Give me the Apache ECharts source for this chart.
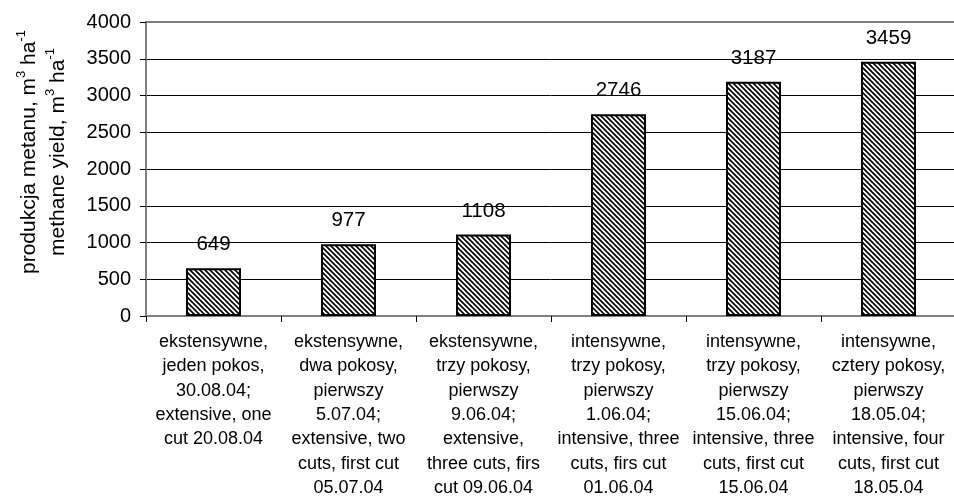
<!DOCTYPE html>
<html>
<head>
<meta charset="utf-8">
<script src="https://cdn.jsdelivr.net/npm/echarts@6/dist/echarts.min.js"></script>
<style>
  html, body { margin: 0; padding: 0; background: #fff; }
  #chart { width: 954px; height: 497px; }
</style>
</head>
<body>
<div id="chart"></div>
<script>
// Methane yield per cutting regime
const categories = [
  'ekstensywne,\njeden pokos,\n30.08.04;\nextensive, one\ncut 20.08.04',
  'ekstensywne,\ndwa pokosy,\npierwszy\n5.07.04;\nextensive, two\ncuts, first cut\n05.07.04',
  'ekstensywne,\ntrzy pokosy,\npierwszy\n9.06.04;\nextensive,\nthree cuts, firs\ncut 09.06.04',
  'intensywne,\ntrzy pokosy,\npierwszy\n1.06.04;\nintensive, three\ncuts, firs cut\n01.06.04',
  'intensywne,\ntrzy pokosy,\npierwszy\n15.06.04;\nintensive, three\ncuts, first cut\n15.06.04',
  'intensywne,\ncztery pokosy,\npierwszy\n18.05.04;\nintensive, four\ncuts, first cut\n18.05.04'
];
const methaneYield = [649, 977, 1108, 2746, 3187, 3459];
const yTicks = [0, 500, 1000, 1500, 2000, 2500, 3000, 3500, 4000];

// diagonal hatch fill for the bars
function hatch() {
  const s = 5;
  const c = document.createElement('canvas');
  c.width = s; c.height = s;
  const g = c.getContext('2d');
  g.fillStyle = '#fff';
  g.fillRect(0, 0, s, s);
  g.strokeStyle = '#000';
  g.lineWidth = 1.7;
  g.beginPath();
  g.moveTo(-1, -1); g.lineTo(s + 1, s + 1);
  g.moveTo(-1, s - 1); g.lineTo(1, s + 1);
  g.moveTo(s - 1, -1); g.lineTo(s + 1, 1);
  g.stroke();
  return c;
}

const font = '"Liberation Sans", Arial, sans-serif';
const chart = echarts.init(document.getElementById('chart'));
chart.setOption({
  animation: false,
  textStyle: { fontFamily: font },
  grid: { left: 146, right: -2, top: 22, bottom: 181, containLabel: false, outerBoundsMode: 'none' },
  xAxis: [{
    type: 'category',
    data: categories,
    axisLine: { lineStyle: { color: '#808080', width: 2 } },
    axisTick: { show: true, length: 6, lineStyle: { color: '#000', width: 1 } },
    axisLabel: { interval: 0, color: '#000', fontSize: 18, lineHeight: 24.3, margin: 14, fontFamily: font }
  }, {
    type: 'category',
    position: 'top',
    data: categories,
    axisLine: { lineStyle: { color: '#808080', width: 2 } },
    axisTick: { show: false },
    axisLabel: { show: false }
  }],
  yAxis: {
    type: 'value',
    min: yTicks[0],
    max: yTicks[yTicks.length - 1],
    interval: yTicks[1] - yTicks[0],
    axisLine: { show: true, lineStyle: { color: '#808080', width: 2 } },
    axisTick: { show: true, length: 6, lineStyle: { color: '#000', width: 1 } },
    axisLabel: { color: '#000', fontSize: 20, margin: 15, fontFamily: font, formatter: v => String(v) },
    splitLine: { show: true, lineStyle: { color: '#000', width: 1 } },
    name: 'produkcja metanu, m{sup|3} ha{sup|-1}\nmethane yield, m{sup|3} ha{sup|-1}',
    nameLocation: 'middle',
    nameRotate: 90,
    nameGap: 73,
    nameTextStyle: {
      color: '#000', fontSize: 21, lineHeight: 29, fontFamily: font,
      padding: [0, 0, 0, 34],
      rich: {
        sup: { fontSize: 13, verticalAlign: 'top', lineHeight: 29, color: '#000', fontFamily: font }
      }
    }
  },
  series: [{
    type: 'bar',
    xAxisIndex: 0,
    data: methaneYield,
    barWidth: 55,
    itemStyle: {
      color: { image: hatch(), repeat: 'repeat' },
      borderColor: '#000',
      borderWidth: 2
    },
    label: {
      show: true, position: 'top', distance: 13,
      color: '#000', fontSize: 20.5, fontFamily: font
    }
  }]
});
</script>
</body>
</html>
